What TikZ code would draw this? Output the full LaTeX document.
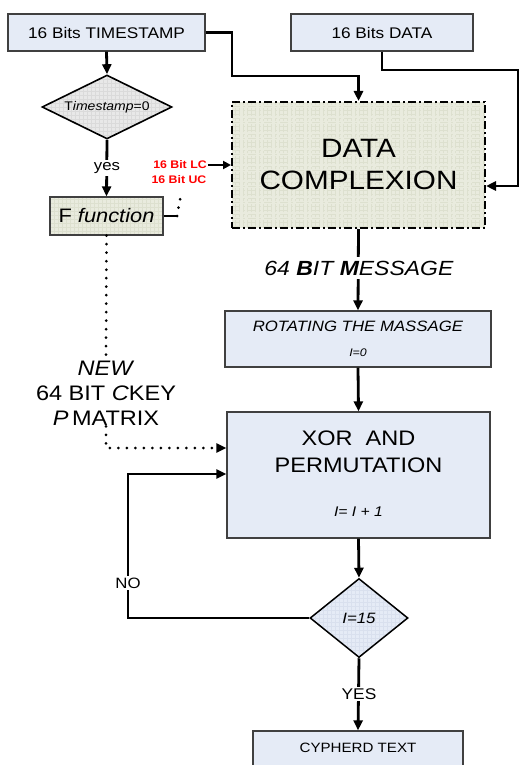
\documentclass[tikz,border=0pt]{standalone}
\usepackage{fontspec}
\setmainfont{Liberation Sans}[FakeStretch=1.12]
\usetikzlibrary{shapes.geometric,arrows.meta,calc}
\definecolor{boxblue}{HTML}{E5EBF6}
\definecolor{boxgreen}{HTML}{E9EBDE}
\definecolor{gridgreen}{HTML}{DDE0CF}
\definecolor{diagray}{HTML}{E8E8E8}
\definecolor{gridgray}{HTML}{DADADA}
\definecolor{gridblue}{HTML}{D9E0EE}
\newcommand\myfs[1]{\fontsize{#1}{#1}\selectfont}
\begin{document}
\begin{tikzpicture}[x=1pt,y=-1pt,
  tip/.style={-{Triangle[length=10pt,width=9pt]}},
  conn/.style={line width=2.8pt,tip},
  plainline/.style={line width=2.8pt},
  dots/.style={line width=3pt,line cap=round,dash pattern=on 0pt off 8.5pt},
  bluebox/.style={draw=black!75,line width=1.3pt,fill=boxblue,inner sep=0pt},
  gridbg/.style={path picture={\draw[line width=0.3pt,draw=#1] (path picture bounding box.south west) grid[step=4pt] (path picture bounding box.north east);}},
  lbl/.style={inner sep=1pt},
  whitelbl/.style={fill=white,inner sep=2pt}
]
\useasboundingbox (0,0) rectangle (520,765);

% boxes
\node[bluebox,minimum width=197pt,minimum height=37pt] (ts) at (106.5,32.5) {\myfs{15.4}16 Bits TIMESTAMP};
\node[bluebox,minimum width=182pt,minimum height=37pt] (dat) at (382,32.5) {\myfs{15.4}16 Bits DATA};
\node[diamond,draw=black,line width=1.6pt,fill=diagray,gridbg=gridgray,aspect=2,minimum width=130pt,minimum height=64pt,inner sep=0pt] (d1) at (107,107) {};
\node[lbl] (d1t) at (107,107) {\myfs{12.5}T\textit{imestamp}=0};
\node[draw=black!75,line width=1.3pt,fill=boxgreen,gridbg=gridgreen,minimum width=113pt,minimum height=38pt,inner sep=0pt] (ff) at (106.5,216) {\myfs{19.5}F \textit{function}};
\node[draw=black,line width=2pt,dash pattern=on 8pt off 3pt on 2pt off 3pt,fill=boxgreen,gridbg=gridgreen,minimum width=253pt,minimum height=126pt,inner sep=0pt,align=center,font={\fontsize{26.5}{32}\selectfont}] (dc) at (358.5,165) {DATA\\COMPLEXION};
\node[bluebox,minimum width=266pt,minimum height=56pt] (rot) at (358,339) {};
\node[lbl] (rott) at (358,326) {\myfs{15}\textit{ROTATING THE MASSAGE}};
\node[lbl] (roti) at (358,353) {\myfs{11}\textit{I=0}};
\node[bluebox,minimum width=263pt,minimum height=126pt] (xor) at (358.5,475) {};
\node[lbl,align=center,font={\fontsize{21}{27}\selectfont}] (xort) at (358.5,451.5) {XOR\ \ AND\\PERMUTATION};
\node[lbl] (xori) at (358.5,512) {\myfs{14}\textit{I= I + 1}};
\node[diamond,draw=black,line width=1.5pt,fill=boxblue,gridbg=gridblue,aspect=1.24,minimum width=98pt,minimum height=79pt,inner sep=0pt] (d2) at (359,618) {};
\node[lbl] (d2t) at (359,618) {\myfs{15}\textit{I=15}};
\node[bluebox,minimum width=210pt,minimum height=40pt] (out) at (358,751) {};
\node[lbl] (outt) at (358,748) {\myfs{13.5}CYPHERD TEXT};

% red labels
\node[lbl,text=red] (lc) at (180,165) {\myfs{11}\textbf{16 Bit LC}};
\node[lbl,text=red] (uc) at (179,180) {\myfs{11}\textbf{16 Bit UC}};

% key label
\node[lbl,align=center,font={\fontsize{21}{25}\selectfont}] (key) at (106,393) {\textit{NEW}\\64 BIT \textit{C}KEY\\\textit{P}\,MATRIX};

% connectors
\draw[conn] (ts.south) -- (d1.north);
\coordinate (tsA) at (232,76);
\draw[conn] (ts.east) -| (tsA) -- (dc.north |- tsA) -- (dc.north);
\coordinate (dA) at (518,70);
\draw[conn] (dat.south) |- (dA) |- ($(dc.east)+(0,21)$);
\draw[conn] (d1.south) -- (ff.north);
\node[whitelbl] (yes) at (107,168) {\myfs{15}yes};
\draw[line width=2.8pt,-{Triangle[length=8pt,width=8pt]}] (lc.east) -- (lc.east -| dc.west);
\coordinate (ffA) at (177,216);
\coordinate (ffB) at (181,195);
\draw[plainline] (ff.east) -- (ffA);
\draw[dots] (ffA) -- (ffB);
\draw[dots] (ff.south) -- (key.north);
\coordinate (kc) at (106,448);
\draw[dots,tip] (key.south) -- (kc) -- (kc -| xor.west);
\draw[conn] (dc.south) -- (rot.north);
\node[whitelbl,inner sep=4pt] (msg) at (359,268) {\myfs{20.5}\textit{64 \textbf{B}IT \textbf{M}ESSAGE}};
\draw[conn] (rot.south) -- (xor.north);
\draw[conn] (xor.south) -- (d2.north);
\coordinate (noA) at (128,474);
\draw[conn] (d2.west) -| (noA) -- (noA -| xor.west);
\node[whitelbl] (no) at (128,583) {\myfs{15}NO};
\draw[conn] (d2.south) -- (out.north);
\node[whitelbl] (yes2) at (359,694) {\myfs{15.5}YES};
\end{tikzpicture}
\end{document}
